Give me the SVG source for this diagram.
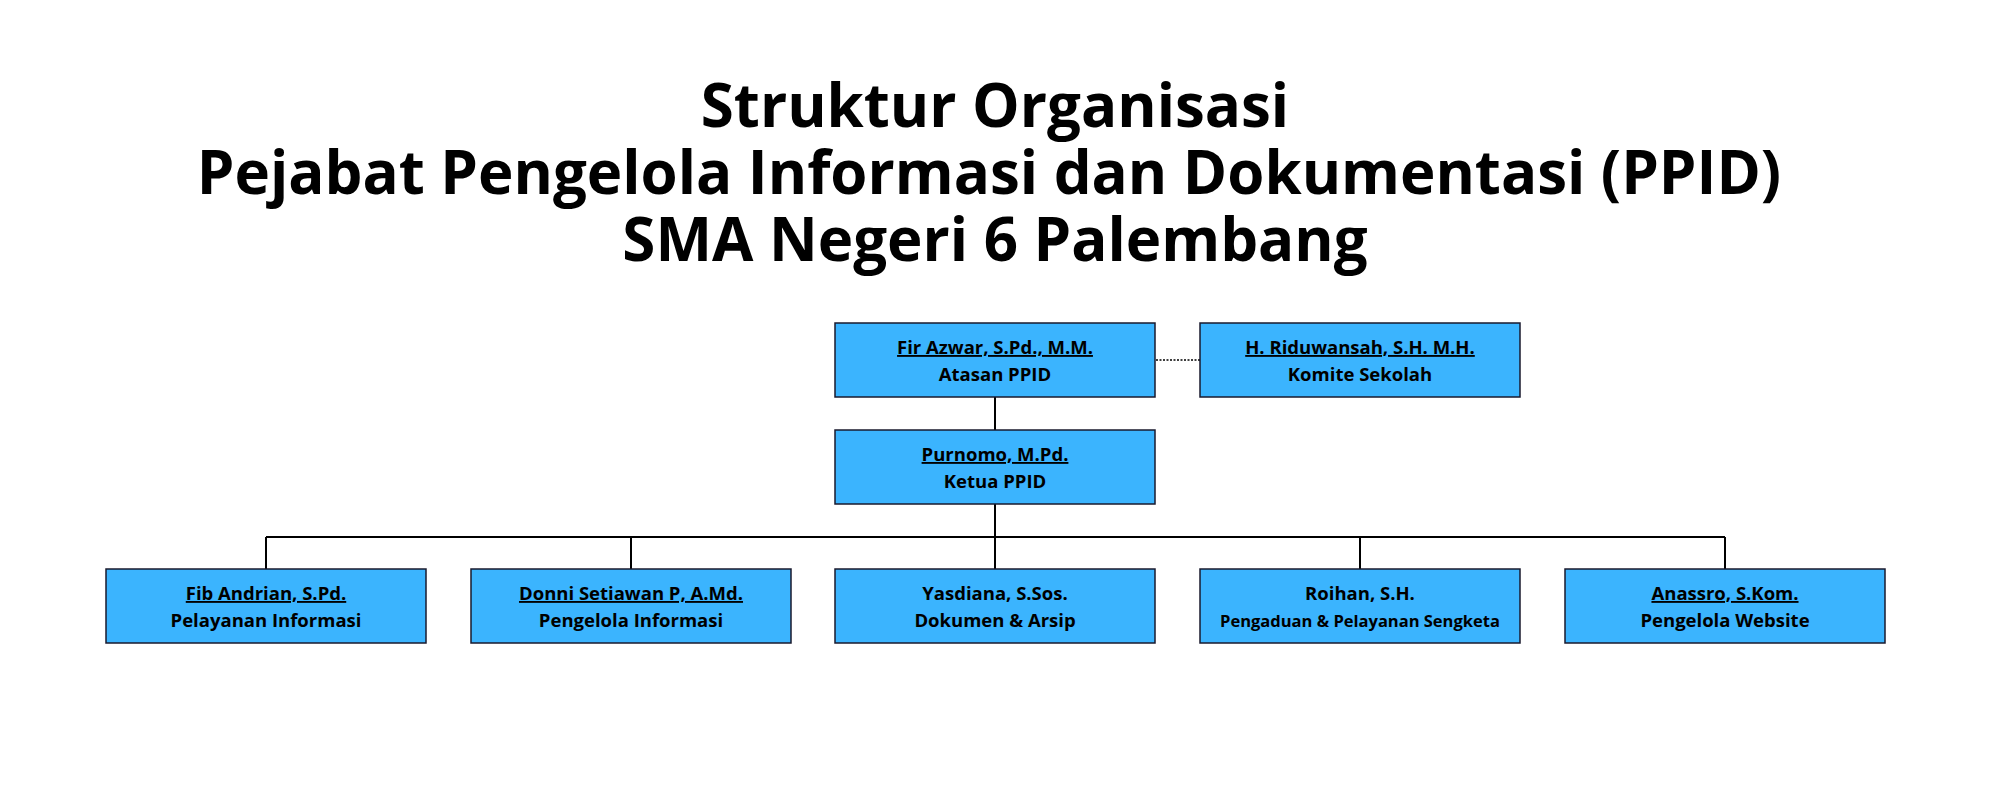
<svg xmlns="http://www.w3.org/2000/svg" width="2000" height="788" viewBox="0 0 2000 788">
<style>
.t{font-family:"Open Sans","Noto Sans",sans-serif;font-weight:bold;fill:#000;text-anchor:middle}
.h{font-size:60px}
.n{font-size:18.5px;text-decoration:underline}
.r{font-size:18.5px}
.b{fill:#3bb4fe;stroke:#1a1a2e;stroke-width:1.5}
.c{stroke:#000;stroke-width:2;fill:none}
</style>
<rect width="2000" height="788" fill="#fff"/>
<g id="title">
<text class="t h" x="995" y="127">Struktur Organisasi</text>
<text class="t h" x="989" y="194">Pejabat Pengelola Informasi dan Dokumentasi (PPID)</text>
<text class="t h" x="995" y="261">SMA Negeri 6 Palembang</text>
</g>
<g id="connectors">
<line class="c" x1="995" y1="397" x2="995" y2="430"/>
<line class="c" x1="995" y1="504" x2="995" y2="569"/>
<line class="c" x1="266" y1="537" x2="1725" y2="537"/>
<line class="c" x1="266" y1="537" x2="266" y2="569"/>
<line class="c" x1="631" y1="537" x2="631" y2="569"/>
<line class="c" x1="1360" y1="537" x2="1360" y2="569"/>
<line class="c" x1="1725" y1="537" x2="1725" y2="569"/>
<line x1="1156" y1="360" x2="1200" y2="360" stroke="#000" stroke-width="1.5" stroke-dasharray="2,1.5"/>
</g>
<g id="n1"><rect class="b" x="835" y="323" width="320" height="74"/><text class="t n" x="995" y="354">Fir Azwar, S.Pd., M.M.</text><text class="t r" x="995" y="381">Atasan PPID</text></g>
<g id="n2"><rect class="b" x="1200" y="323" width="320" height="74"/><text class="t n" x="1360" y="354">H. Riduwansah, S.H. M.H.</text><text class="t r" x="1360" y="381">Komite Sekolah</text></g>
<g id="n3"><rect class="b" x="835" y="430" width="320" height="74"/><text class="t n" x="995" y="461">Purnomo, M.Pd.</text><text class="t r" x="995" y="488">Ketua PPID</text></g>
<g id="n4"><rect class="b" x="106" y="569" width="320" height="74"/><text class="t n" x="266" y="600">Fib Andrian, S.Pd.</text><text class="t r" x="266" y="627">Pelayanan Informasi</text></g>
<g id="n5"><rect class="b" x="471" y="569" width="320" height="74"/><text class="t n" x="631" y="600">Donni Setiawan P, A.Md.</text><text class="t r" x="631" y="627">Pengelola Informasi</text></g>
<g id="n6"><rect class="b" x="835" y="569" width="320" height="74"/><text class="t r" x="995" y="600">Yasdiana, S.Sos.</text><text class="t r" x="995" y="627">Dokumen &amp; Arsip</text></g>
<g id="n7"><rect class="b" x="1200" y="569" width="320" height="74"/><text class="t r" x="1360" y="600">Roihan, S.H.</text><text class="t r" x="1360" y="627" style="font-size:16.5px">Pengaduan &amp; Pelayanan Sengketa</text></g>
<g id="n8"><rect class="b" x="1565" y="569" width="320" height="74"/><text class="t n" x="1725" y="600">Anassro, S.Kom.</text><text class="t r" x="1725" y="627">Pengelola Website</text></g>
</svg>
